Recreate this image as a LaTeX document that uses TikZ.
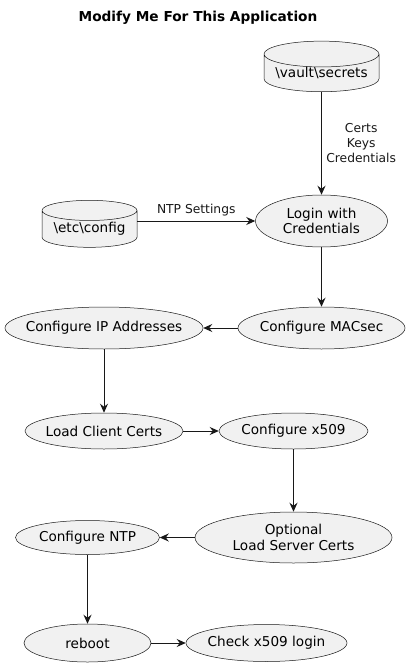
\documentclass[tikz,border=0pt]{standalone}
\usepackage{fontspec}
\setmainfont{DejaVu Sans}
\usepackage{tikz}
\usetikzlibrary{arrows.meta,shapes.geometric}
\definecolor{umlfill}{HTML}{F1F1F1}
\definecolor{umlline}{HTML}{181818}

\begin{document}
\begin{tikzpicture}[x=1pt,y=-1pt,
    usecase/.style={ellipse,draw=umlline,fill=umlfill,line width=0.5pt,inner xsep=-12pt,inner ysep=0pt,
      align=center,font=\fontsize{13.6}{15.5}\selectfont},
    store/.style={cylinder,shape border rotate=90,draw=umlline,fill=umlfill,line width=0.5pt,
      inner sep=0pt,aspect=0.28,font=\fontsize{13.6}{15.5}\selectfont},
    flow/.style={-{Stealth[length=9pt,width=8pt,inset=3pt]},umlline,line width=1pt},
    lbl/.style={font=\fontsize{12.3}{15}\selectfont,align=center}]
  \useasboundingbox (0,0) rectangle (410,666);
  \node[font=\bfseries\fontsize{13.7}{16}\selectfont] (title) at (198,18) {Modify Me For This Application};
  % stores
  \node[store,minimum width=115pt,minimum height=46pt] (vault) at (321.5,73) {\textbackslash vault\textbackslash secrets};
  \node[store,minimum width=95pt,minimum height=47pt] (config) at (89.5,229) {\textbackslash etc\textbackslash config};
  % use cases
  \node[usecase,minimum width=132pt,minimum height=52pt] (login) at (321.5,221) {Login with\\Credentials};
  \node[usecase,minimum width=167pt,minimum height=42pt] (macsec) at (321.5,328) {Configure MACsec};
  \node[usecase,minimum width=198pt,minimum height=42pt] (ipaddr) at (104,328) {Configure IP Addresses};
  \node[usecase,minimum width=158pt,minimum height=36pt] (clientcerts) at (104,431) {Load Client Certs};
  \node[usecase,minimum width=149pt,minimum height=36pt] (xfive) at (293.5,431) {Configure x509};
  \node[usecase,minimum width=197pt,minimum height=51pt] (servercerts) at (293.5,537.5) {Optional\\Load Server Certs};
  \node[usecase,minimum width=144pt,minimum height=34pt] (ntp) at (87.5,537.5) {Configure NTP};
  \node[usecase,minimum width=127pt,minimum height=38pt] (reboot) at (87.5,643) {reboot};
  \node[usecase,minimum width=161pt,minimum height=37pt] (check) at (266.5,643) {Check x509 login};
  % flows
  \draw[flow] (vault.south) -- node[lbl,right=1pt] {Certs\\Keys\\Credentials} (login);
  \draw[flow] (config.east |- login.west) -- node[lbl,above=1pt] {NTP Settings} (login);
  \draw[flow] (login) -- (macsec);
  \draw[flow] (macsec) -- (ipaddr);
  \draw[flow] (ipaddr) -- (clientcerts);
  \draw[flow] (clientcerts) -- (xfive);
  \draw[flow] (xfive) -- (servercerts);
  \draw[flow] (servercerts) -- (ntp);
  \draw[flow] (ntp) -- (reboot);
  \draw[flow] (reboot) -- (check);
\end{tikzpicture}
\end{document}
